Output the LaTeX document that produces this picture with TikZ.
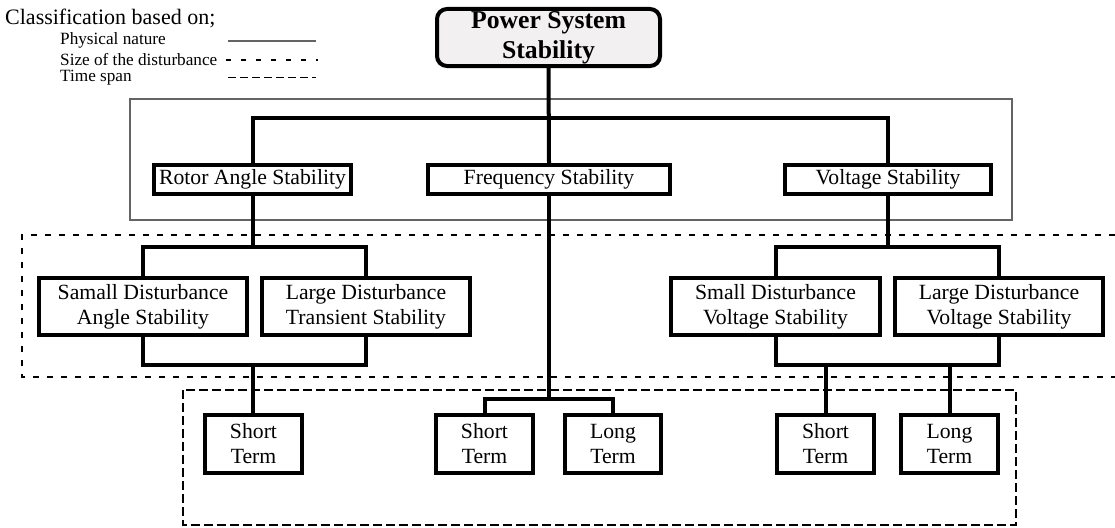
\documentclass[tikz,border=0pt]{standalone}
\usepackage{fontspec}
\setmainfont{Liberation Serif}
\begin{document}
\begin{tikzpicture}[x=1pt,y=1pt,
  box/.style={draw=black, line width=4pt, fill=white, rectangle, inner sep=0pt, align=center,
    font=\fontsize{21.7}{25}\selectfont},
  titlebox/.style={draw=black, line width=4pt, fill=titlefill, rectangle, rounded corners=10pt, inner sep=0pt,
    align=center, font=\fontsize{25.7}{30}\selectfont\bfseries},
  conn/.style={draw=black, line width=4pt},
  phys/.style={draw=framegray, line width=1.3pt},
  sizedash/.style={draw=black, line width=2pt, dash pattern=on 6pt off 8pt},
  timedash/.style={draw=black, line width=1.8pt, dash pattern=on 9pt off 4pt},
  legtitle/.style={anchor=west, inner sep=0pt, font=\fontsize{22}{25}\selectfont},
  legitem/.style={anchor=west, inner sep=0pt, font=\fontsize{17.2}{20}\selectfont}
]
\definecolor{titlefill}{RGB}{242,240,240}
\definecolor{framegray}{RGB}{100,100,100}
\useasboundingbox (0,0) rectangle (1115,-527);

% legend
\node[legtitle] (leg) at (5,-18) {Classification based on;};
\node[legitem] (lphys) at (60,-40) {Physical nature};
\node[legitem] (lsize) at (60,-60) {Size of the disturbance};
\node[legitem] (ltime) at (60,-78) {Time span};
\coordinate (lp1) at (228,-41); \coordinate (lp2) at (316,-41);
\coordinate (ls1) at (226,-60); \coordinate (ls2) at (318,-60);
\coordinate (lt1) at (228,-77); \coordinate (lt2) at (316,-77);
\draw[phys] (lp1) -- (lp2);
\draw[black, line width=2pt, dash pattern=on 5pt off 10pt] (ls1) -- (ls2);
\draw[black, line width=1pt, dash pattern=on 8pt off 4pt] (lt1) -- (lt2);

% grouping frames
\draw[phys] (130,-99) rectangle (1012,-220);
\draw[sizedash] (1115,-235) -- (22,-235) -- (22,-377) -- (1115,-377);
\draw[timedash] (183,-390) rectangle (1016,-525);

% junction coordinates
\coordinate (j1) at (548,-118);
\coordinate (j2) at (252.5,-247);
\coordinate (j3) at (252.5,-365);
\coordinate (j4) at (549,-399);
\coordinate (j5) at (888,-247);
\coordinate (j6) at (888,-365);

% nodes
\node[titlebox, minimum width=223pt, minimum height=57pt] (pss) at (548.5,-37.5) {Power System\\Stability};
\node[box, minimum width=197pt, minimum height=29pt] (ras) at (252.5,-179.5) {Rotor Angle Stability};
\node[box, minimum width=242pt, minimum height=29pt] (fs) at (549,-179.5) {Frequency Stability};
\node[box, minimum width=206pt, minimum height=29pt] (vs) at (888,-179.5) {Voltage Stability};
\node[box, minimum width=208pt, minimum height=57pt] (sdas) at (143,-306.5) {Samall Disturbance\\Angle Stability};
\node[box, minimum width=208pt, minimum height=57pt] (ldts) at (366,-306.5) {Large Disturbance\\Transient Stability};
\node[box, minimum width=209pt, minimum height=57pt] (sdvs) at (775.5,-306.5) {Small Disturbance\\Voltage Stability};
\node[box, minimum width=208pt, minimum height=57pt] (ldvs) at (999,-306.5) {Large Disturbance\\Voltage Stability};
\node[box, minimum width=97pt, minimum height=58pt] (st1) at (253.5,-444) {Short\\Term};
\node[box, minimum width=97pt, minimum height=58pt] (st2) at (484.5,-444) {Short\\Term};
\node[box, minimum width=96pt, minimum height=58pt] (lt2n) at (613,-444) {Long\\Term};
\node[box, minimum width=97pt, minimum height=58pt] (st3) at (825.5,-444) {Short\\Term};
\node[box, minimum width=97pt, minimum height=58pt] (lt3n) at (949.5,-444) {Long\\Term};

% connectors
\draw[conn] (pss.south) -- (fs.north);
\draw[conn] (ras.north) |- (j1) -| (vs.north);
\draw[conn] (ras.south) -- (j2);
\draw[conn] (sdas.north) |- (j2) -| (ldts.north);
\draw[conn] (sdas.south) |- (j3) -| (ldts.south);
\draw[conn] (j3) -- (j3 |- st1.north);
\draw[conn] (fs.south) -- (j4);
\draw[conn] (st2.north) |- (j4) -| (lt2n.north);
\draw[conn] (vs.south) -- (j5);
\draw[conn] (sdvs.north) |- (j5) -| (ldvs.north);
\draw[conn] (sdvs.south) |- (j6) -| (ldvs.south);
\draw[conn] (st3.north) -- (st3.north |- j6);
\draw[conn] (lt3n.north) -- (lt3n.north |- j6);
\end{tikzpicture}
\end{document}
